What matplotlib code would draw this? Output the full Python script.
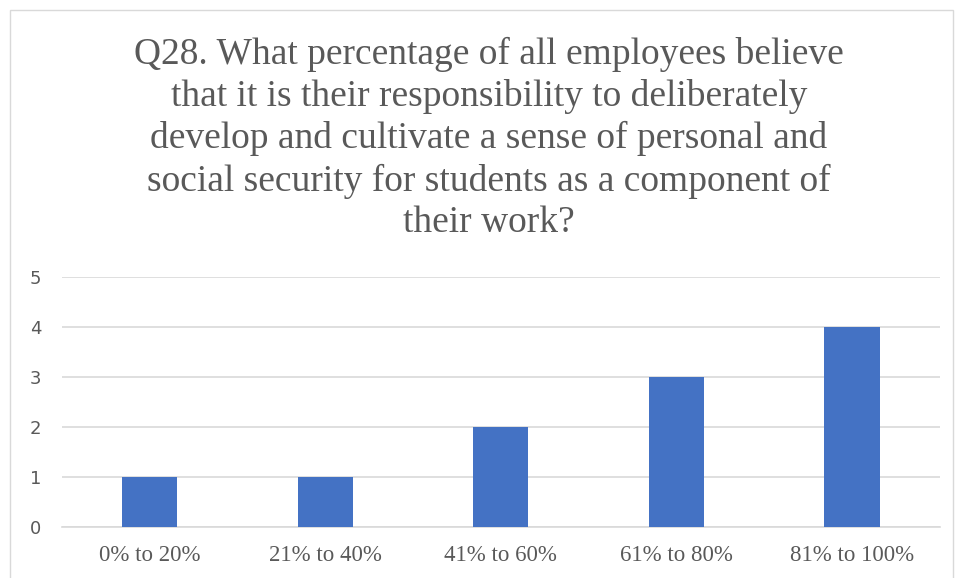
import matplotlib.pyplot as plt
from matplotlib.patches import Rectangle

# data
categories = ['0% to 20%', '21% to 40%', '41% to 60%', '61% to 80%', '81% to 100%']
counts = [1, 1, 2, 3, 4]
yticks = [0, 1, 2, 3, 4, 5]
title = ('Q28. What percentage of all employees believe\n'
         'that it is their responsibility to deliberately\n'
         'develop and cultivate a sense of personal and\n'
         'social security for students as a component of\n'
         'their work?')

fig = plt.figure(figsize=(9.56, 5.78), dpi=100)
ax = fig.add_axes([0.0649, 0.0882, 0.918, 0.4325])

x = range(len(categories))
ax.bar(x, counts, width=0.315, color='#4472c4', zorder=3)

ax.set_xlim(-0.5, len(categories) - 0.5)
ax.set_ylim(0, 5)
ax.set_yticks(yticks)
ax.set_xticks(list(x))
ax.set_xticklabels(categories, fontfamily='Liberation Serif', fontsize=16.5, color='#595959')
for lab in ax.get_yticklabels():
    lab.set_fontfamily('DejaVu Sans')
    lab.set_fontsize(13)
    lab.set_color('#595959')
ax.tick_params(axis='both', length=0)
ax.tick_params(axis='y', pad=15)
ax.tick_params(axis='x', pad=13)
ax.grid(axis='y', color='#d9d9d9', linewidth=1.2, zorder=0)
for s in ['top', 'right', 'left']:
    ax.spines[s].set_visible(False)
ax.spines['bottom'].set_color('#d9d9d9')
ax.spines['bottom'].set_linewidth(1.2)

fig.text(0.5115, 0.936, title, ha='center', va='top', fontfamily='Liberation Serif',
         fontsize=27, color='#595959', linespacing=1.26)

# chart border
fig.patches.append(Rectangle((10 / 956, -0.01), 943 / 956, 1 - 10 / 578 + 0.01,
                             transform=fig.transFigure, fill=False,
                             edgecolor='#d9d9d9', linewidth=1))

fig.savefig('out.png', dpi=100)
